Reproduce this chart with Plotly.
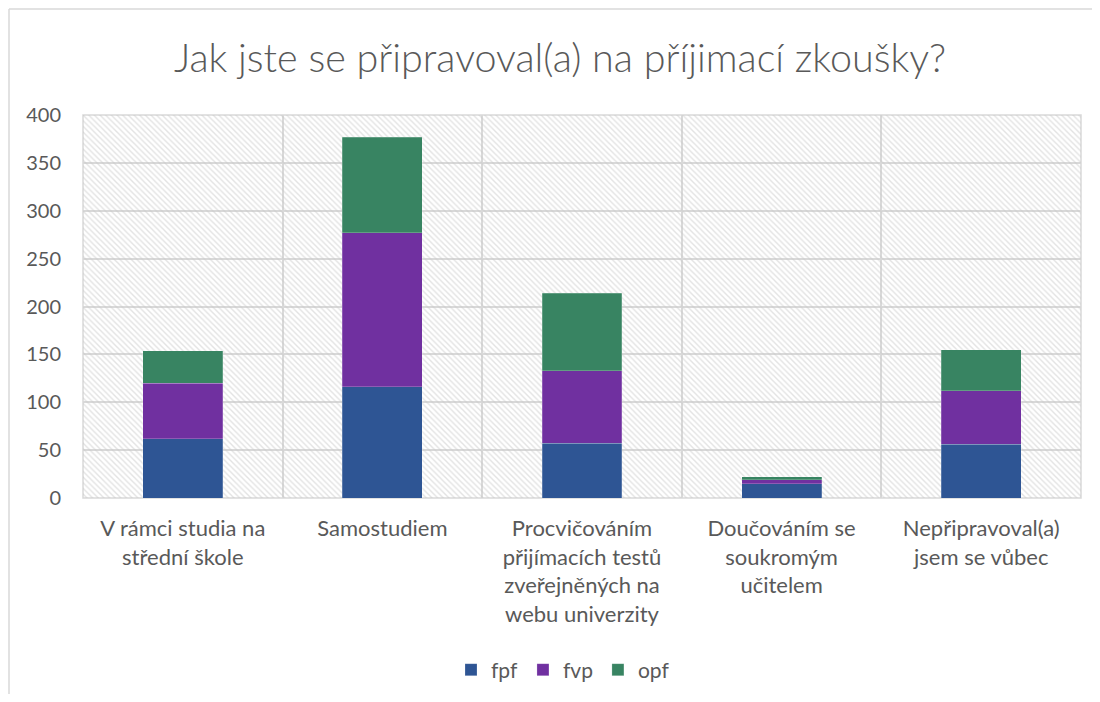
import plotly.graph_objects as go

categories = [
    "V rámci studia na<br>střední škole",
    "Samostudiem",
    "Procvičováním<br>přijímacích testů<br>zveřejněných na<br>webu univerzity",
    "Doučováním se<br>soukromým<br>učitelem",
    "Nepřipravoval(a)<br>jsem se vůbec",
]
fpf = [62, 116, 57, 15, 56]
fvp = [58, 161, 76, 4, 56]
opf = [34, 100, 81, 3, 43]
series_names = ["fpf", "fvp", "opf"]
series_colors = ["#2E5594", "#7030A0", "#388462"]
y_max = 400
title_text = "Jak jste se připravoval(a) na příjimací zkoušky?"

FONT = "Lato"
GRAY = "#595959"
GRID = "#d9d9d9"

# page body has an 8px default margin; keep the page free of scrollbars
W, H = 1084, 686
# plot area target on screen: x 83..1081, y 115..498
L, T, PW, PH = 75, 107, 998, 383

fig = go.Figure()

# hatched plot-area background (base subplot, drawn beneath the bars)
fig.add_trace(go.Bar(
    x=[(len(categories) - 1) / 2], y=[y_max], width=[len(categories)],
    xaxis="x", yaxis="y",
    marker=dict(color="rgba(0,0,0,0)", line=dict(width=0),
                pattern=dict(shape="\\", fgcolor="#c8c8c8", bgcolor="rgba(0,0,0,0)",
                             size=4, solidity=0.35, fillmode="overlay")),
    showlegend=False, hoverinfo="skip",
))

for name, vals, col in zip(series_names, [fpf, fvp, opf], series_colors):
    fig.add_trace(go.Bar(
        x=categories, y=vals, name=name, xaxis="x2", yaxis="y2",
        width=0.4, marker=dict(color=col, line=dict(width=0.6, color="rgba(255,255,255,0.35)")),
    ))

fig.update_layout(
    width=W, height=H,
    margin=dict(l=L, r=W - L - PW, t=T, b=H - T - PH, autoexpand=False),
    paper_bgcolor="white", plot_bgcolor="white",
    barmode="stack",
    font=dict(family=FONT, color=GRAY, size=21),
    title=dict(text=title_text, x=(L + PW / 2 - 22) / W, xanchor="center",
               y=1 - 50 / H, yanchor="middle",
               font=dict(family=FONT, size=39.5, color=GRAY, weight=300)),
    xaxis=dict(range=[-0.5, len(categories) - 0.5], showgrid=False, showticklabels=False,
               zeroline=False, showline=False, fixedrange=True, automargin=False),
    yaxis=dict(range=[0, y_max], dtick=50, showgrid=True, gridcolor=GRID, gridwidth=1.5,
               zeroline=False, showline=False, ticks="", ticklabelstandoff=21, automargin=False,
               tickfont=dict(size=20, color=GRAY)),
    xaxis2=dict(overlaying="x", type="category", categoryorder="array", categoryarray=categories,
                range=[-0.5, len(categories) - 0.5], tickson="boundaries", showgrid=True,
                gridcolor=GRID, gridwidth=1.5, ticks="", side="bottom", ticklabelstandoff=15,
                automargin=False,
                tickfont=dict(size=22, color=GRAY), showline=False, zeroline=False),
    yaxis2=dict(overlaying="y", range=[0, y_max], visible=False),
    legend=dict(orientation="h", x=(563 - 8 - L) / PW, xanchor="center",
                y=-(670 - 8 - (T + PH)) / PH, yanchor="middle",
                font=dict(size=21, color=GRAY), traceorder="normal", itemwidth=30),
    shapes=[
        dict(type="rect", xref="paper", yref="paper", x0=0, x1=1, y0=0, y1=1,
             line=dict(color=GRID, width=1.5), layer="below"),
        dict(type="line", xref="paper", yref="paper",
             x0=-(L - 1) / PW, x1=-(L - 1) / PW, y0=-1.0, y1=1 + (T - 1) / PH,
             line=dict(color=GRID, width=1.5), layer="below"),
        dict(type="line", xref="paper", yref="paper",
             x0=-(L - 1) / PW, x1=1.3, y0=1 + (T - 1) / PH, y1=1 + (T - 1) / PH,
             line=dict(color=GRID, width=1.5), layer="below"),
    ],
)

fig.write_html("out.html")
